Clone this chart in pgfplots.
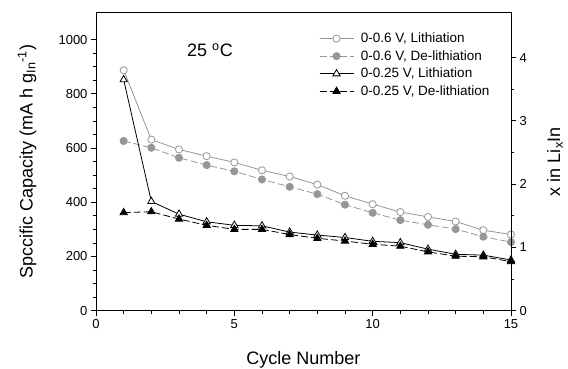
\documentclass[border=0pt]{standalone}
\usepackage{fontspec}
\setmainfont{Liberation Sans}
\usepackage{pgfplots}
\pgfplotsset{compat=1.18}
\definecolor{grayc}{RGB}{150,150,150}
\begin{document}
\begin{tikzpicture}
\path[use as bounding box] (-96pt,-58.3pt) rectangle (472pt,310.7pt);
\begin{axis}[
  at={(0,0)}, anchor=south west,
  scale only axis, width=415pt, height=298.2pt,
  xmin=0, xmax=15, ymin=0, ymax=1100,
  xtick={0,5,10,15}, minor x tick num=4,
  ytick={0,200,...,1000}, minor y tick num=3,
  tick align=outside, xtick pos=bottom, ytick pos=left,
  major tick length=5pt, minor tick length=3pt,
  axis line style={line width=0.8pt}, tick style={line width=0.8pt, black},
  /pgf/number format/assume math mode=true,
  /pgf/number format/1000 sep={},
  tick label style={font=\fontsize{13}{15}\selectfont},
  label style={font=\fontsize{18}{21}\selectfont},
  xlabel={Cycle Number},
  ylabel={Spccific Capacity (mA h g\textsubscript{In}\textsuperscript{-1})},
  xlabel style={at={(axis description cs:0.5,-0.165)}, anchor=center},
  ylabel style={at={(axis description cs:-0.166,0.5)}, anchor=center},
  legend style={at={(axis cs:7.95,1040)}, anchor=north west, draw=none, fill=none,
    font=\fontsize{13.5}{16}\selectfont, cells={anchor=west}, row sep=2.3pt,
    /tikz/every odd column/.append style={column sep=5pt}},
  legend image code/.code={\draw[mark repeat=2,mark phase=2,#1] plot coordinates {(0pt,0pt) (17pt,0pt) (34pt,0pt)};},
]
\addplot[grayc, line width=0.8pt, mark=*, mark size=3.6pt, mark options={solid, fill=white, draw=grayc}] coordinates {
(1,887) (2,631) (3,595) (4,570) (5,547) (6,518) (7,495) (8,465) (9,424) (10,393) (11,364) (12,346) (13,329) (14,297) (15,281)};
\addlegendentry{0-0.6 V, Lithiation}
\addplot[grayc, line width=0.8pt, dash pattern=on 7pt off 3pt, mark=*, mark size=3.6pt, mark options={solid, fill=grayc, draw=grayc}] coordinates {
(1,626) (2,601) (3,564) (4,537) (5,514) (6,484) (7,457) (8,430) (9,391) (10,361) (11,334) (12,317) (13,301) (14,273) (15,253)};
\addlegendentry{0-0.6 V, De-lithiation}
\addplot[black, line width=0.8pt, mark=triangle*, mark size=4.2pt, mark options={solid, fill=white, draw=black}] coordinates {
(1,852) (2,403) (3,356) (4,328) (5,315) (6,313) (7,290) (8,279) (9,270) (10,256) (11,251) (12,227) (13,208) (14,205) (15,187)};
\addlegendentry{0-0.25 V, Lithiation}
\addplot[black, line width=0.8pt, dash pattern=on 7pt off 3pt, mark=triangle*, mark size=4.2pt, mark options={solid, fill=black, draw=black}] coordinates {
(1,362) (2,365) (3,338) (4,315) (5,300) (6,300) (7,281) (8,267) (9,257) (10,245) (11,238) (12,217) (13,201) (14,199) (15,181)};
\addlegendentry{0-0.25 V, De-lithiation}
\node[font=\fontsize{18}{21}\selectfont] at (axis cs:4.12,960) {25 \textsuperscript{o}C};
\end{axis}
\begin{axis}[
  at={(0,0)}, anchor=south west,
  scale only axis, width=415pt, height=298.2pt,
  xmin=0, xmax=15, ymin=0, ymax=4.7129,
  axis x line=none, axis y line*=right,
  ytick={0,1,2,3,4}, minor y tick num=1,
  tick align=outside,
  major tick length=5pt, minor tick length=3pt,
  axis line style={line width=0.8pt}, tick style={line width=0.8pt, black},
  /pgf/number format/assume math mode=true,
  tick label style={font=\fontsize{13}{15}\selectfont},
  label style={font=\fontsize{18}{21}\selectfont},
  ylabel={x in Li\textsubscript{x}In},
  ylabel style={at={(axis description cs:1.106,0.5)}, anchor=center},
]
\end{axis}
\end{tikzpicture}
\end{document}
